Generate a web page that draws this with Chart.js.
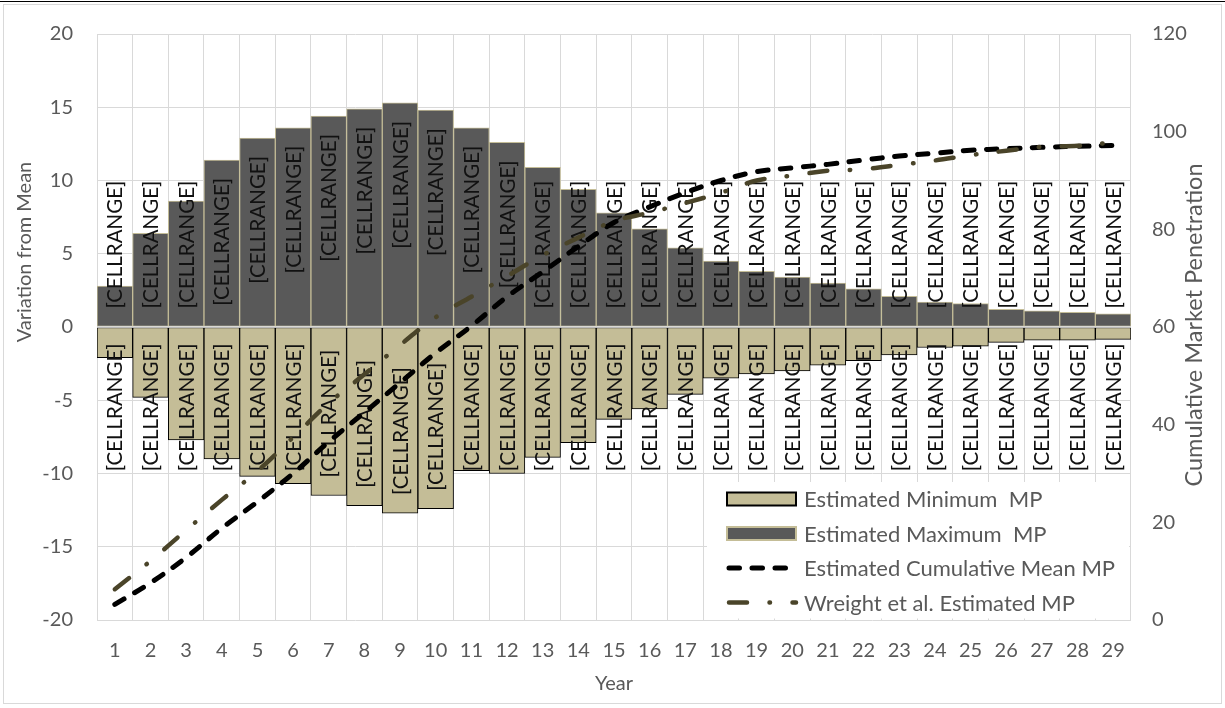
<!DOCTYPE html>
<html><head><meta charset="utf-8">
<script src="https://cdn.jsdelivr.net/npm/chart.js@4.4.0/dist/chart.umd.min.js"></script>
<style>
html,body{margin:0;padding:0;background:#fff;}
#wrap{position:absolute;left:0;top:0;width:1225px;height:708px;overflow:hidden;}
canvas{position:absolute;left:0;top:0;}
#frame{position:absolute;left:3px;top:4px;width:1217px;height:698px;border:1px solid #D9D9D9;pointer-events:none;}
#topline{position:absolute;left:0;top:1px;width:1225px;height:1px;background:#000;}
</style></head><body>
<div id="wrap"><canvas id="c" width="1225" height="708"></canvas><div id="frame"></div><div id="topline"></div></div>
<script>
const years = ['1','2','3','4','5','6','7','8','9','10','11','12','13','14','15','16','17','18','19','20','21','22','23','24','25','26','27','28','29'];
const maxMP = [2.8, 6.4, 8.6, 11.4, 12.9, 13.6, 14.4, 14.9, 15.3, 14.8, 13.6, 12.6, 10.9, 9.4, 7.8, 6.7, 5.4, 4.5, 3.8, 3.4, 3.0, 2.6, 2.1, 1.7, 1.6, 1.2, 1.1, 1.0, 0.9];
const minMP = [-2.1, -4.8, -7.7, -9.0, -10.2, -10.7, -11.5, -12.2, -12.7, -12.4, -9.8, -10.0, -8.9, -7.9, -6.3, -5.6, -4.6, -3.5, -3.2, -3.0, -2.6, -2.3, -1.9, -1.4, -1.3, -1.05, -0.9, -0.9, -0.85];
const meanMP = [3.2, 7.6, 12.8, 18.8, 24.2, 30.0, 36.5, 42.5, 48.6, 54.7, 60.2, 66.2, 71.3, 76.5, 81.4, 84.6, 87.5, 90.0, 91.8, 92.6, 93.3, 94.2, 95.0, 95.6, 96.2, 96.5, 96.8, 97.0, 97.2];
const wreightMP = [6.3, 12.1, 18.4, 24.6, 30.5, 37.4, 44.4, 50.3, 56.3, 62.0, 66.2, 70.4, 74.7, 78.3, 81.7, 83.4, 85.4, 87.5, 90.0, 91.0, 92.0, 92.3, 93.2, 94.1, 95.2, 96.1, 96.9, 97.1, 97.8];
const barLabel = '[CELLRANGE]';
const seriesNames = ['Estimated Minimum  MP', 'Estimated Maximum  MP', 'Estimated Cumulative Mean MP', 'Wreight et al. Estimated MP'];
const leftTitle = 'Variation from Mean';
const rightTitle = 'Cumulative Market Penetration';
const xTitle = 'Year';

const FONT = 'Lato, "Open Sans", sans-serif';
const GRAY = '#595959';
const TAN = '#C4BD97';
const DARK = '#595959';
const OLIVE = '#4A4429';
const MEAN_DASH = [10.5, 12.5];
const WR_DASH = [18, 22.5, 0.5, 22.5];

const barLabelPlugin = {
  id: 'barLabels',
  afterDatasetDraw(chart, args) {
    const ds = chart.data.datasets[args.index];
    if (ds.type !== 'bar') return;
    const ctx = chart.ctx;
    ctx.save();
    ctx.font = '20.5px ' + FONT;
    ctx.fillStyle = '#111111';
    ctx.textAlign = 'center';
    ctx.textBaseline = 'middle';
    const w = ctx.measureText(barLabel).width;
    args.meta.data.forEach((el) => {
      const p = el.getProps(['x', 'y', 'base'], true);
      let c;
      if (p.y <= p.base) {
        let far = p.y + 18;
        let near = far + w;
        if (near > p.base - 18) { near = p.base - 18; far = near - w; }
        c = (far + near) / 2;
      } else {
        let far = p.y - 18;
        let near = far - w;
        if (near < p.base + 16) { near = p.base + 16; far = near + w; }
        c = (far + near) / 2;
      }
      ctx.save();
      ctx.translate(p.x, c);
      ctx.rotate(-Math.PI / 2);
      ctx.fillText(barLabel, 0, 1);
      ctx.restore();
    });
    if (ds.order === 3) {
      const y0 = chart.scales.y.getPixelForValue(0);
      ctx.strokeStyle = '#D9D9D9';
      ctx.lineWidth = 1.5;
      ctx.beginPath();
      ctx.moveTo(chart.chartArea.left, y0);
      ctx.lineTo(chart.chartArea.right, y0);
      ctx.stroke();
    }
    ctx.restore();
  }
};

const decorPlugin = {
  id: 'decor',
  afterDraw(chart) {
    const ctx = chart.ctx;
    const ca = chart.chartArea;
    ctx.save();
    ctx.fillStyle = GRAY;
    ctx.textAlign = 'center';
    ctx.textBaseline = 'middle';
    ctx.font = '20px ' + FONT;
    ctx.save(); ctx.translate(25, 252); ctx.rotate(-Math.PI / 2); ctx.fillText(leftTitle, 0, 0); ctx.restore();
    ctx.font = '23.5px ' + FONT;
    ctx.save(); ctx.translate(1194, 325); ctx.rotate(-Math.PI / 2); ctx.fillText(rightTitle, 0, 0); ctx.restore();
    ctx.font = '20px ' + FONT;
    ctx.fillText(xTitle, (ca.left + ca.right) / 2, 684);
    // legend
    const lx0 = 707, ly0 = 482, lx1 = 1129, ly1 = 618.5;
    ctx.fillStyle = '#FFFFFF';
    ctx.fillRect(lx0, ly0, lx1 - lx0, ly1 - ly0);
    const rows = [499, 533.5, 568, 602.5];
    const sx = 727, sw = 69, sh = 13, tx = 804;
    ctx.fillStyle = TAN; ctx.fillRect(sx, rows[0] - sh / 2, sw, sh);
    ctx.strokeStyle = '#000'; ctx.lineWidth = 2; ctx.strokeRect(sx, rows[0] - sh / 2, sw, sh);
    ctx.fillStyle = DARK; ctx.fillRect(sx, rows[1] - sh / 2, sw, sh);
    ctx.strokeStyle = TAN; ctx.lineWidth = 2; ctx.strokeRect(sx, rows[1] - sh / 2, sw, sh);
    ctx.lineCap = 'round';
    ctx.strokeStyle = '#000'; ctx.lineWidth = 5; ctx.setLineDash(MEAN_DASH);
    ctx.beginPath(); ctx.moveTo(sx + 2, rows[2]); ctx.lineTo(sx + sw - 6, rows[2]); ctx.stroke();
    ctx.strokeStyle = OLIVE; ctx.lineWidth = 4.5; ctx.setLineDash(WR_DASH);
    ctx.beginPath(); ctx.moveTo(sx + 2, rows[3]); ctx.lineTo(sx + sw, rows[3]); ctx.stroke();
    ctx.setLineDash([]);
    ctx.fillStyle = GRAY;
    ctx.font = '22px ' + FONT;
    ctx.textAlign = 'left';
    seriesNames.forEach((n, i) => ctx.fillText(n, tx, rows[i] + 1));
    ctx.restore();
  }
};

new Chart(document.getElementById('c'), {
  type: 'bar',
  data: {
    labels: years,
    datasets: [
      { type: 'bar', label: seriesNames[0], data: minMP, yAxisID: 'y', order: 4,
        backgroundColor: TAN, borderColor: '#000000', borderWidth: 1, borderSkipped: false,
        barPercentage: 1, categoryPercentage: 1, grouped: false },
      { type: 'bar', label: seriesNames[1], data: maxMP, yAxisID: 'y', order: 3,
        backgroundColor: DARK, borderColor: TAN, borderWidth: 1, borderSkipped: false,
        barPercentage: 1, categoryPercentage: 1, grouped: false },
      { type: 'line', label: seriesNames[2], data: meanMP, yAxisID: 'y1', order: 2,
        borderColor: '#000000', borderWidth: 5, borderDash: MEAN_DASH, borderCapStyle: 'round',
        pointRadius: 0, tension: 0.35, fill: false },
      { type: 'line', label: seriesNames[3], data: wreightMP, yAxisID: 'y1', order: 1,
        borderColor: OLIVE, borderWidth: 4.5, borderDash: WR_DASH, borderCapStyle: 'round',
        pointRadius: 0, tension: 0.35, fill: false }
    ]
  },
  options: {
    responsive: false,
    animation: false,
    devicePixelRatio: 1,
    layout: { padding: { top: 34, left: 0, right: 0, bottom: 0 } },
    plugins: { legend: { display: false }, tooltip: { enabled: false } },
    scales: {
      x: {
        offset: true,
        grid: { offset: true, color: '#D9D9D9', drawTicks: false, lineWidth: 1 },
        border: { display: false },
        ticks: { color: GRAY, font: { family: FONT, size: 20 }, padding: 19, maxRotation: 0, autoSkip: false },
        afterFit(s) { s.height = 88; s.paddingLeft = 0; s.paddingRight = 0; }
      },
      y: {
        position: 'left', min: -20, max: 20,
        ticks: { stepSize: 5, color: GRAY, font: { family: FONT, size: 20 }, padding: 24 },
        grid: { color: '#D9D9D9', drawTicks: false },
        border: { display: false },
        afterFit(s) { s.width = 97; s.paddingTop = 0; s.paddingBottom = 0; }
      },
      y1: {
        position: 'right', min: 0, max: 120,
        ticks: { stepSize: 20, color: GRAY, font: { family: FONT, size: 20 }, padding: 21 },
        grid: { drawOnChartArea: false, drawTicks: false },
        border: { display: false },
        afterFit(s) { s.width = 94; s.paddingTop = 0; s.paddingBottom = 0; }
      }
    }
  },
  plugins: [barLabelPlugin, decorPlugin]
});
</script>
</body></html>
